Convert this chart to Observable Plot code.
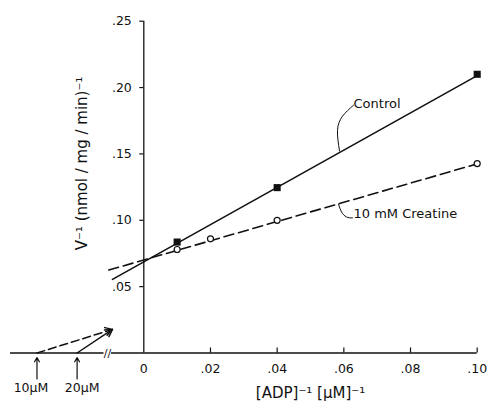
<!DOCTYPE html>
<html><head><meta charset="utf-8">
<script src="https://cdn.jsdelivr.net/npm/d3@7"></script>
<script src="https://cdn.jsdelivr.net/npm/@observablehq/plot@0.6"></script>
<style>body{margin:0;background:#fff}</style>
</head><body><div id="chart"></div>
<script>
// measured points
const controlX = [0.01, 0.04, 0.10];
const controlY = [0.0836, 0.1246, 0.210];
const creatineX = [0.01, 0.02, 0.04, 0.10];
const creatineY = [0.078, 0.086, 0.100, 0.1427];
// fitted lines (start, end)
const controlLineX = [-0.0094, 0.10];
const controlLineY = [0.0555, 0.209];
const creatineLineX = [-0.0105, 0.10];
const creatineLineY = [0.0625, 0.1425];
// x-intercepts (-1/Km) on the broken part of the axis
const kmLabels = ["10\u03bcM", "20\u03bcM"];
const kmX = [-0.1, -0.05];
const kmDashed = [true, false];
const arrowTip = {x: -0.0094, y: 0.0178};
// ticks
const xTicks = [0, 0.02, 0.04, 0.06, 0.08, 0.10];
const yTicks = [0.05, 0.10, 0.15, 0.20, 0.25];
// leader curves for labels
const controlLeaderX = [0.0587, 0.0581, 0.0596, 0.0629];
const controlLeaderY = [0.1522, 0.1678, 0.1784, 0.1867];
const creatineLeaderX = [0.0584, 0.0593, 0.0608, 0.0626];
const creatineLeaderY = [0.1122, 0.1063, 0.1025, 0.1018];

const fmt = d => d === 0 ? "0" : d3.format(".2f")(d).replace(/^0/, "");
const ink = "#111";
const zip = (xs, ys) => xs.map((x, i) => ({x, y: ys[i]}));
const km = kmX.map((x, i) => ({x, label: kmLabels[i], dashed: kmDashed[i]}));

const chart = Plot.plot({
  width: 488, height: 408,
  marginLeft: 10, marginRight: 11, marginTop: 20, marginBottom: 55,
  style: {fontFamily: "DejaVu Sans", fontSize: "12px", color: ink, background: "#fff"},
  x: {type: "linear", domain: [-0.133, -0.0105, 0.1], range: [10, 108.3, 476.7], axis: null},
  y: {domain: [0, 0.25], range: [352.5, 20.7], axis: null},
  marks: [
    // x axis line (broken)
    Plot.ruleY([0], {x1: -0.133, x2: -0.0165, stroke: ink, strokeWidth: 1.3}),
    Plot.ruleY([0], {x1: -0.0097, x2: 0.10, stroke: ink, strokeWidth: 1.3}),
    Plot.text(["//"], {x: -0.0122, y: 0, fontSize: 11, fill: ink}),
    // y axis line
    Plot.ruleX([0], {y1: 0, y2: 0.25, stroke: ink, strokeWidth: 1.3}),
    // ticks
    Plot.ruleX(xTicks.filter(d => d !== 0), {x: d => d, y1: 0, y2: 0.0038, stroke: ink, strokeWidth: 1.2}),
    Plot.ruleY(yTicks, {y: d => d, x1: -0.0012, x2: 0, stroke: ink, strokeWidth: 1.2}),
    Plot.text(xTicks, {x: d => d, y: 0, text: fmt, dy: 16, fill: ink, fontSize: 12.5}),
    Plot.text(yTicks, {x: 0, y: d => d, text: fmt, dx: -12, textAnchor: "end", fill: ink, fontSize: 12.5}),
    // axis titles
    Plot.text(["[ADP]\u207b\u00b9 [\u03bcM]\u207b\u00b9"], {x: 0.05, y: 0, dy: 40, fontSize: 15, fill: ink, letterSpacing: 1.5}),
    Plot.text(["V\u207b\u00b9 (nmol / mg / min)\u207b\u00b9"], {x: -0.0433, y: 0.1428, rotate: -90, fontSize: 15, fill: ink, letterSpacing: 0.5}),
    // fitted lines
    Plot.line(zip(controlLineX, controlLineY), {x: "x", y: "y", stroke: ink, strokeWidth: 1.6}),
    Plot.line(zip(creatineLineX, creatineLineY), {x: "x", y: "y", stroke: ink, strokeWidth: 1.6, strokeDasharray: "10,5"}),
    // points
    Plot.dot(zip(controlX, controlY), {x: "x", y: "y", symbol: "square", r: 4, fill: ink}),
    Plot.dot(zip(creatineX, creatineY), {x: "x", y: "y", r: 3, fill: "#fff", stroke: ink, strokeWidth: 1.2}),
    // leaders + labels
    Plot.line(zip(controlLeaderX, controlLeaderY), {x: "x", y: "y", curve: "natural", stroke: ink, strokeWidth: 1}),
    Plot.line(zip(creatineLeaderX, creatineLeaderY), {x: "x", y: "y", curve: "natural", stroke: ink, strokeWidth: 1}),
    Plot.text(["Control"], {x: 0.0629, y: 0.188, textAnchor: "start", fontSize: 13, fill: ink, letterSpacing: 0.5}),
    Plot.text(["10 mM Creatine"], {x: 0.0629, y: 0.1052, textAnchor: "start", fontSize: 13, fill: ink, letterSpacing: 0.5}),
    // extrapolation arrows to -1/Km
    Plot.arrow(km.filter(d => d.dashed),
      {x1: "x", y1: 0, x2: arrowTip.x, y2: arrowTip.y, stroke: ink, strokeWidth: 1.5, strokeDasharray: "8,4", headLength: 8}),
    Plot.arrow(km.filter(d => !d.dashed),
      {x1: "x", y1: 0, x2: arrowTip.x, y2: arrowTip.y, stroke: ink, strokeWidth: 1.5, headLength: 8}),
    Plot.arrow(km, {x1: "x", x2: "x", y1: -0.0195, y2: -0.0035, stroke: ink, strokeWidth: 1.2, headLength: 6}),
    Plot.text(km.slice(0, 1), {x: "x", y: -0.0265, text: "label", dx: -6, fontSize: 12.5, fill: ink}),
    Plot.text(km.slice(1), {x: "x", y: -0.0265, text: "label", dx: 5, fontSize: 12.5, fill: ink}),
  ]
});
document.getElementById("chart").appendChild(chart);
</script>
</body></html>
